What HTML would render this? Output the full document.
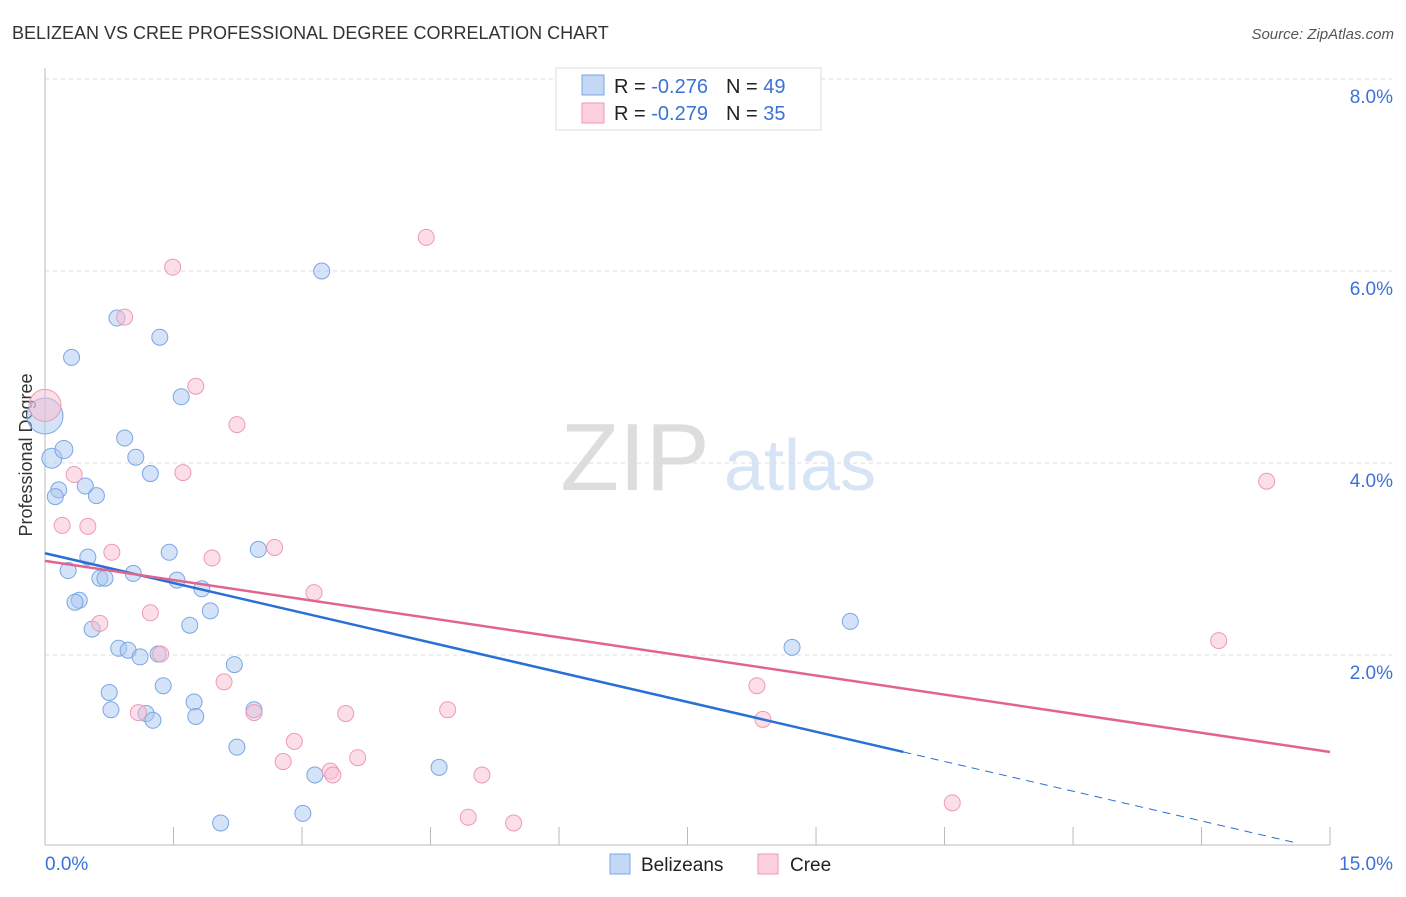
<!DOCTYPE html>
<html><head><meta charset="utf-8"><style>
body{margin:0;background:#fff;font-family:"Liberation Sans",sans-serif;}
svg text{font-family:"Liberation Sans",sans-serif;}
</style></head><body>
<svg id="chart" width="1406" height="892">
<text x="12" y="39" font-size="18" fill="#333">BELIZEAN VS CREE PROFESSIONAL DEGREE CORRELATION CHART</text>
<text x="1394" y="39" font-size="15" fill="#555" font-style="italic" text-anchor="end">Source: ZipAtlas.com</text>
<text x="32" y="455" font-size="18" fill="#333" text-anchor="middle" transform="rotate(-90 32 455)">Professional Degree</text>
<g><text x="635" y="490" font-size="96" fill="#ddd" font-family="Liberation Serif" text-anchor="middle">ZIP</text><text x="800" y="490" font-size="72" fill="#d6e4f5" text-anchor="middle">atlas</text></g>
<g id="grid"></g><g id="axes"></g><g id="pts"></g><g id="lines"></g>
<g>
<rect x="556" y="68" width="265" height="62" fill="#fff" stroke="#ddd"/>
<rect x="582" y="75" width="22" height="20" fill="#c3d8f5" stroke="#7aa6e6"/>
<rect x="582" y="103" width="22" height="20" fill="#fcd0dc" stroke="#ee9ab4"/>
<text x="614" y="93" font-size="20" fill="#222">R = <tspan fill="#3a72d6">-0.276</tspan><tspan dx="18">N = </tspan><tspan fill="#3a72d6">49</tspan></text>
<text x="614" y="120" font-size="20" fill="#222">R = <tspan fill="#3a72d6">-0.279</tspan><tspan dx="18">N = </tspan><tspan fill="#3a72d6">35</tspan></text>
</g>
<g>
<rect x="610" y="854" width="20" height="20" fill="#c3d8f5" stroke="#7aa6e6"/>
<text x="641" y="871" font-size="19" fill="#222">Belizeans</text>
<rect x="758" y="854" width="20" height="20" fill="#fcd0dc" stroke="#ee9ab4"/>
<text x="790" y="871" font-size="19" fill="#222">Cree</text>
</g>
</svg>
<script>
const yTicks=[2,4,6,8];
const yTickLabels=["2.0%","4.0%","6.0%","8.0%"];
const xTicks=[0,1.5,3,4.5,6,7.5,9,10.5,12,13.5,15];
const blueX=[0,0.08,0.22,0.31,0.84,1.34,1.59,3.23,0.93,1.06,1.23,0.16,0.12,0.47,0.6,0.5,0.27,0.64,0.7,1.03,1.45,1.54,1.83,2.49,1.93,0.4,0.35,0.55,1.69,0.86,0.97,1.11,1.32,2.21,0.75,1.38,0.77,1.18,1.26,1.74,1.76,2.44,2.24,3.15,4.6,3.01,2.05,8.72,9.4];
const blueY=[4.49,4.05,4.14,5.1,5.51,5.31,4.69,6.0,4.26,4.06,3.89,3.72,3.65,3.76,3.66,3.02,2.88,2.8,2.8,2.85,3.07,2.78,2.69,3.1,2.46,2.57,2.55,2.27,2.31,2.07,2.05,1.98,2.01,1.9,1.61,1.68,1.43,1.39,1.32,1.51,1.36,1.43,1.04,0.75,0.83,0.35,0.25,2.08,2.35];
const blueR=[18,10,9,8,8,8,8,8,8,8,8,8,8,8,8,8,8,8,8,8,8,8,8,8,8,8,8,8,8,8,8,8,8,8,8,8,8,8,8,8,8,8,8,8,8,8,8,8,8];
const pinkX=[0,4.45,1.49,0.93,1.76,2.24,0.34,1.61,0.2,0.5,0.78,1.95,2.68,3.14,1.23,0.64,1.35,2.09,2.44,1.09,3.51,4.7,2.91,2.78,3.65,3.33,3.36,5.1,4.94,5.47,8.31,8.38,10.59,14.26,13.7];
const pinkY=[4.6,6.35,6.04,5.52,4.8,4.4,3.88,3.9,3.35,3.34,3.07,3.01,3.12,2.65,2.44,2.33,2.01,1.72,1.4,1.4,1.39,1.43,1.1,0.89,0.93,0.79,0.75,0.75,0.31,0.25,1.68,1.33,0.46,3.81,2.15];
const pinkR=[16,8,8,8,8,8,8,8,8,8,8,8,8,8,8,8,8,8,8,8,8,8,8,8,8,8,8,8,8,8,8,8,8,8,8];
const blueLine=[0,3.06,10.02,0.99];
const pinkLine=[0,2.98,15,0.99];
const X=v=>45+v*85.67, Y=v=>847-v*96;
const NS="http://www.w3.org/2000/svg";
function mk(tag,attrs,parent){const e=document.createElementNS(NS,tag);for(const k in attrs)e.setAttribute(k,attrs[k]);document.getElementById(parent).appendChild(e);return e;}
yTicks.forEach((t,i)=>{
 const g=mk('line',{x1:45,x2:1392,y1:Y(t),y2:Y(t),stroke:'#ddd','stroke-dasharray':'4,4'},'grid');
 
 
 const l=mk('text',{x:1393,y:Y(t)+24,'font-size':19,fill:'#3a72d6','text-anchor':'end'},'axes');l.textContent=yTickLabels[i];
 
 
});
const ax=mk('line',{x1:45,x2:1330,y1:845,y2:845,stroke:'#bbb'},'axes');


const ay=mk('line',{x1:45,x2:45,y1:68,y2:845,stroke:'#bbb'},'axes');


xTicks.forEach(t=>{const k=mk('line',{x1:X(t),x2:X(t),y1:827,y2:845,stroke:'#bbb'},'axes');
 
 });
let a=mk('text',{x:45,y:870,'font-size':19,fill:'#3a72d6'},'axes');a.textContent='0.0%';


a=mk('text',{x:1393,y:870,'font-size':19,fill:'#3a72d6','text-anchor':'end'},'axes');a.textContent='15.0%';


blueX.forEach((v,i)=>{const c=mk('circle',{cx:X(v),cy:Y(blueY[i]),r:blueR[i],fill:'rgba(170,200,240,0.5)',stroke:'#7aa6e6','stroke-width':1},'pts');
 
 });
pinkX.forEach((v,i)=>{const c=mk('circle',{cx:X(v),cy:Y(pinkY[i]),r:pinkR[i],fill:'rgba(250,190,210,0.5)',stroke:'#ee9ab4','stroke-width':1},'pts');
 
 });
const bs=(blueLine[3]-blueLine[1])/(blueLine[2]-blueLine[0]);
let l=mk('line',{x1:X(blueLine[0]),y1:Y(blueLine[1]),x2:X(blueLine[2]),y2:Y(blueLine[3]),stroke:'#2a6fd6','stroke-width':2.5},'lines');


const xe=14.6;
l=mk('line',{x1:X(blueLine[2]),y1:Y(blueLine[3]),x2:X(xe),y2:Y(blueLine[1]+bs*xe),stroke:'#2a6fd6','stroke-width':1,'stroke-dasharray':'8,6'},'lines');


l=mk('line',{x1:X(pinkLine[0]),y1:Y(pinkLine[1]),x2:X(pinkLine[2]),y2:Y(pinkLine[3]),stroke:'#e2648e','stroke-width':2.5},'lines');


</script>
</body></html>
